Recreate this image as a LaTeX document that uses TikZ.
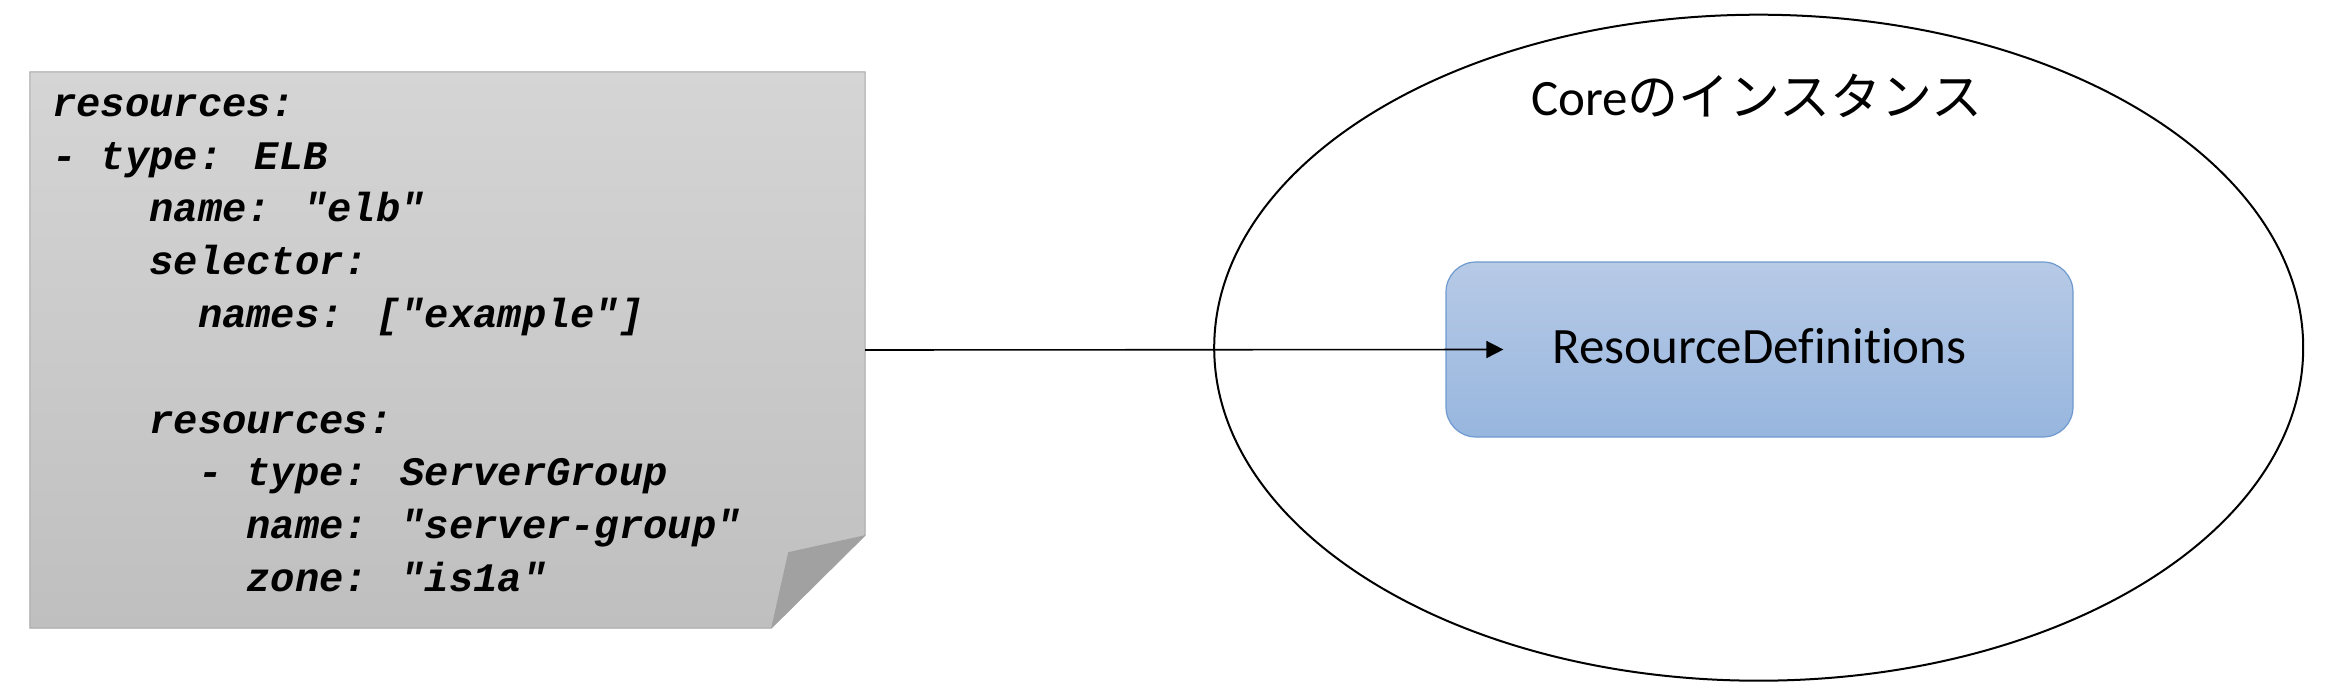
\documentclass[tikz,border=0pt]{standalone}
\usepackage{fontspec}
\setmainfont{Carlito}[Ligatures=NoCommon]
\newfontfamily\jpfont{Noto Sans CJK JP}
\newfontfamily\codefont{Liberation Mono}
\usetikzlibrary{arrows.meta,shapes.geometric,calc}

\definecolor{notetop}{HTML}{D5D5D5}
\definecolor{notebot}{HTML}{BFBFBF}
\definecolor{noteline}{HTML}{A6A6A6}
\definecolor{notefold}{HTML}{A1A1A1}
\definecolor{boxtop}{HTML}{B7CAE6}
\definecolor{boxbot}{HTML}{97B6DE}
\definecolor{boxline}{HTML}{6E9AD0}

\newcommand{\yamlind}[1]{\hspace*{#1\dimexpr0.6em\relax}}

\begin{document}
\begin{tikzpicture}[x=1pt,y=-1pt,
  label/.style={font=\fontsize{51}{61}\selectfont, inner sep=0pt},
  codetext/.style={font=\codefont\bfseries\itshape\fontsize{40.5}{52.8}\selectfont, align=left, inner sep=0pt},
  defsbox/.style={label, rectangle, rounded corners=30pt, minimum width=627pt, minimum height=175pt,
    text height=27pt, text depth=0pt,
    draw=boxline, line width=1.2pt, top color=boxtop, bottom color=boxbot},
  flow/.style={-{Triangle[length=17pt,width=17pt]}, line width=1.6pt}]
  \useasboundingbox (0,0) rectangle (2330,696);

  \node[rectangle, inner sep=0pt, minimum width=835pt, minimum height=556pt] (note) at (447.5,350) {};
  \shadedraw[top color=notetop, bottom color=notebot, draw=noteline, line width=1pt]
    (note.north west) -- (note.north east) -- ($(note.south east)+(0,-93)$)
    -- ($(note.south east)+(-94,0)$) -- (note.south west) -- cycle;
  \fill[notefold] ($(note.south east)+(0,-93)$) -- ($(note.south east)+(-77,-76)$)
    -- ($(note.south east)+(-94,0)$) -- cycle;

  \node[codetext, anchor=north west] (code) at (52,86) {\rule{0pt}{30pt}resources:\\
- type: ELB\\
\yamlind{4}name: "elb"\\
\yamlind{4}selector:\\
\yamlind{6}names: ["example"]\\
\mbox{}\\
\yamlind{4}resources:\\
\yamlind{6}- type: ServerGroup\\
\yamlind{8}name: "server-group"\\
\yamlind{8}zone: "is1a"};

  \node[draw, ellipse, line width=2pt, inner sep=0pt, minimum width=1089pt, minimum height=666pt] (core) at (1758.7,347.7) {};
  \node[label, anchor=base] (title) at (1757,115) {Core{\jpfont のインスタンス}};
  \node[defsbox] (defs) at (1759.5,349.5) {ResourceDefinitions};

  \coordinate (tip) at ($(defs.west)+(58,0)$);
  \draw[flow] (note.east) -- (tip);
\end{tikzpicture}
\end{document}
